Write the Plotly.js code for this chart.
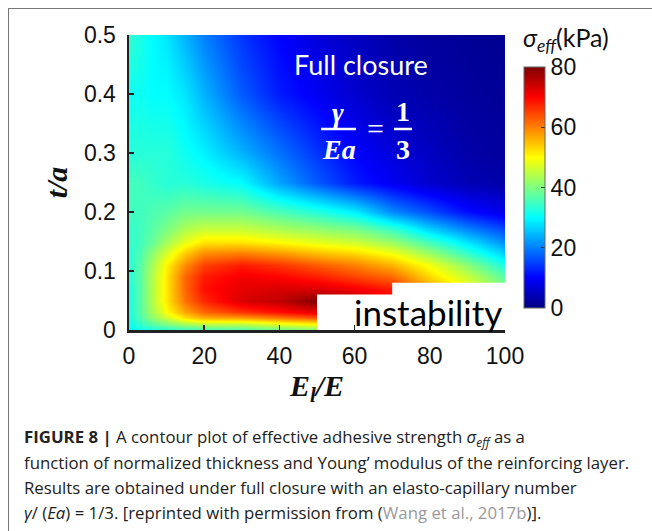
<!DOCTYPE html>
<html>
<head>
<meta charset="utf-8">
<script src="https://cdn.plot.ly/plotly-3.0.1.min.js"></script>
<style>
  html, body { margin: 0; padding: 0; background: #fff; }
  #wrap { position: relative; width: 652px; height: 531px; overflow: hidden; }
  #chart { width: 652px; height: 531px; }
  #frame { position: absolute; left: 8px; top: 8px; width: 700px; height: 600px;
           border-top: 1.5px solid #777; border-left: 1.5px solid #777; pointer-events: none; }
</style>
</head>
<body>
<div id="wrap">
  <div id="chart"></div>
  <div id="frame"></div>
</div>
<script>
// ---- data ----
const stiffnessRatio = [0, 3, 6, 10, 15, 20, 30, 40, 50, 60, 70, 80, 90, 100];        // E_l/E
const thicknessRatio = [0, 0.01, 0.02, 0.03, 0.05, 0.07, 0.09, 0.11, 0.13, 0.15, 0.17, 0.2, 0.25, 0.3, 0.4, 0.5]; // t/a
// sigma_eff (kPa), one row per t/a value, one column per E_l/E value
const sigmaEff = [
  [30, 31, 32, 33, 34, 35, 36, 38, 40, 40, 40, 40, 40, 38],
  [31, 34, 37, 40, 43, 45, 45, 48, 50, 50, 48, 46, 44, 40],
  [32, 36, 41, 46, 52, 56, 57, 60, 63, 62, 58, 52, 48, 42],
  [32, 37, 43, 50, 57, 62, 66, 69, 72, 70, 65, 58, 52, 44],
  [32, 37, 44, 52, 61, 67, 73, 75, 80, 76, 70, 62, 54, 46],
  [32, 37, 44, 52, 62, 69, 72, 73, 73, 71, 68, 58, 49, 40],
  [33, 37, 44, 52, 62, 68, 71, 70, 68, 65, 62, 53, 46, 37],
  [33, 37, 43, 51, 59, 65, 68, 66, 63, 60, 56, 49, 41, 32],
  [33, 36, 41, 47, 54, 59, 60, 58, 55, 53, 49, 42, 34, 26],
  [34, 35, 38, 43, 48, 52, 52, 50, 48, 46, 42, 35, 28, 21],
  [34, 35, 37, 40, 44, 46, 46, 44, 42, 40, 35, 27, 21, 16],
  [35, 35, 36, 37, 39, 39, 39, 36, 33, 29, 21, 16, 11, 8],
  [35, 35, 34, 33, 33, 32, 30, 23, 17, 12, 9, 6, 4, 3],
  [33, 33, 33, 33, 31, 29, 24, 19, 14, 10, 7, 5, 3, 2],
  [31, 31, 30, 30, 28, 24, 17, 12, 9, 6, 4, 3, 2, 1.5],
  [34, 32, 30, 28, 24, 20, 14, 10, 7, 5, 3, 2, 1.5, 1]
];
// instability region (blank), outline in data units
const instabilityX = [50, 50, 70, 70, 100, 100, 50];
const instabilityY = [0, 0.06, 0.06, 0.08, 0.08, 0, 0];
const xTickVals = [0, 20, 40, 60, 80, 100];
const yTickVals = [0, 0.1, 0.2, 0.3, 0.4, 0.5];
const cbTickVals = [0, 20, 40, 60, 80];

// ---- styling ----
const jet = [
  [0.0, 'rgb(0,0,132)'],
  [0.125, 'rgb(0,0,255)'],
  [0.375, 'rgb(0,255,255)'],
  [0.625, 'rgb(255,255,0)'],
  [0.875, 'rgb(255,0,0)'],
  [1.0, 'rgb(128,0,0)']
];
const sans = 'Liberation Sans, Arial, sans-serif';
const capFont = 'Open Sans, Liberation Sans, sans-serif';
const serif = 'Liberation Serif, Times New Roman, serif';
const humanist = 'Lato, Open Sans, sans-serif';

const L = 129, R = 505, T = 35, B = 330, W = 652, H = 531;
const px = v => (v - L) / (R - L);
const py = v => (B - v) / (B - T);

const traces = [
  {
    type: 'heatmap',
    x: stiffnessRatio, y: thicknessRatio, z: sigmaEff,
    zsmooth: 'best', zmin: 0, zmax: 80,
    colorscale: jet,
    hoverinfo: 'skip',
    colorbar: {
      thickness: 21, thicknessmode: 'pixels',
      len: 241, lenmode: 'pixels',
      x: px(524), xanchor: 'left', xpad: 0,
      y: py(187.5), yanchor: 'middle', ypad: 0,
      outlinewidth: 1, outlinecolor: '#666',
      tickvals: cbTickVals, ticks: 'inside', ticklen: 4, tickcolor: '#333',
      tickfont: { family: sans, size: 23, color: '#111' }
    }
  },
  {
    type: 'scatter', mode: 'lines',
    x: instabilityX, y: instabilityY,
    fill: 'toself', fillcolor: '#ffffff',
    line: { width: 0, color: '#ffffff' },
    hoverinfo: 'skip', showlegend: false
  }
];

const white = '#ffffff';
function label(text, x, y, font) {
  return { text: text, xref: 'paper', yref: 'paper', x: px(x), y: py(y),
           xanchor: 'center', yanchor: 'middle', showarrow: false, font: font };
}
function capLine(text, y) {
  return { text: text, xref: 'paper', yref: 'paper', x: px(22), y: py(y),
           xanchor: 'left', yanchor: 'middle', showarrow: false,
           font: { family: capFont, size: 16.8, color: '#222' } };
}
const layout = {
  width: W, height: H,
  margin: { l: L, r: W - R, t: T, b: H - B, pad: 0 },
  paper_bgcolor: '#fff', plot_bgcolor: '#fff',
  showlegend: false,
  xaxis: {
    range: [0, 100], tickvals: xTickVals, showgrid: false, zeroline: false,
    showline: true, linecolor: '#222', linewidth: 2.5, mirror: false,
    ticks: 'inside', ticklen: 5, tickwidth: 1.5, tickcolor: '#222',
    tickfont: { family: sans, size: 23, color: '#111' },
    ticklabelstandoff: 4,
    automargin: false,
    title: { text: '<i>E</i><sub><i>l</i></sub><i>/E</i>', standoff: 0,
             font: { family: serif, size: 30, weight: 'bold', color: '#111' } }
  },
  yaxis: {
    range: [0, 0.5], tickvals: yTickVals, showgrid: false, zeroline: false,
    showline: true, linecolor: '#222', linewidth: 2.5, mirror: false,
    ticks: 'inside', ticklen: 5, tickwidth: 1.5, tickcolor: '#222',
    tickfont: { family: sans, size: 23, color: '#111' },
    ticklabelstandoff: 6,
    automargin: false,
    title: { text: '<i>t/a</i>', standoff: 8,
             font: { family: serif, size: 30, weight: 'bold', color: '#111' } }
  },
  shapes: [
    { type: 'line', xref: 'paper', yref: 'paper', x0: px(321), x1: px(356), y0: py(129), y1: py(129),
      line: { color: white, width: 2.5 } },
    { type: 'line', xref: 'paper', yref: 'paper', x0: px(394), x1: px(412), y0: py(129), y1: py(129),
      line: { color: white, width: 2.5 } }
  ],
  annotations: [
    label('Full closure', 361, 64, { family: humanist, size: 27, color: white }),
    label('<b><i>γ</i></b>', 338, 112, { family: serif, size: 28, color: white }),
    label('<b><i>Ea</i></b>', 339, 149, { family: serif, size: 28, color: white }),
    label('=', 375, 128, { family: serif, size: 30, color: white }),
    label('<b>1</b>', 403, 111, { family: serif, size: 28, color: white }),
    label('<b>3</b>', 403, 149, { family: serif, size: 28, color: white }),
    label('instability', 428, 312, { family: humanist, size: 35, color: '#000' }),
    label('<i>σ<sub>eff</sub></i>(kPa)', 566, 39, { family: humanist, size: 25, color: '#111' }),
    capLine('<b>FIGURE 8 |</b> A contour plot of effective adhesive strength <i>σ<sub>eff</sub></i> as a', 437),
    capLine('function of normalized thickness and Young’ modulus of the reinforcing layer.', 462),
    capLine('Results are obtained under full closure with an elasto-capillary number', 487),
    capLine('<i>γ</i>/ (<i>Ea</i>) = 1/3. [reprinted with permission from (<span style="color:#9a9a9a">Wang et al., 2017b</span>)].', 512)
  ]
};

Plotly.newPlot('chart', traces, layout, { displayModeBar: false, staticPlot: true });
</script>
</body>
</html>
